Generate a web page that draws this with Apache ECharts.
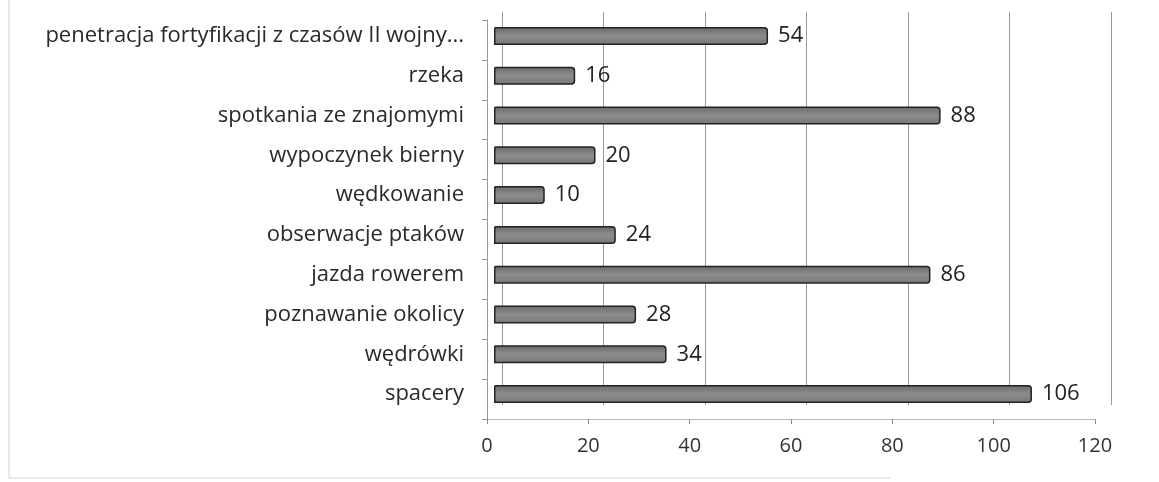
<!DOCTYPE html>
<html><head><meta charset="utf-8">
<script src="https://cdn.jsdelivr.net/npm/echarts@6/dist/echarts.min.js"></script>
<style>html,body{margin:0;padding:0;background:#fff}#c{width:1159px;height:482px}</style>
</head><body><div id="c"></div>
<script>
const categories = ["penetracja fortyfikacji z czasów II wojny...","rzeka","spotkania ze znajomymi","wypoczynek bierny","wędkowanie","obserwacje ptaków","jazda rowerem","poznawanie okolicy","wędrówki","spacery"];
const values = [54,16,88,20,10,24,86,28,34,106];
const xTicks = [0,20,40,60,80,100,120];

const FONT = '"Open Sans", "Liberation Sans", sans-serif';
const chart = echarts.init(document.getElementById('c'), null, {renderer:'canvas'});
chart.setOption({
  animation:false,
  backgroundColor:'#fff',
  grid:[
    {left:494, right:56, top:16, height:398},
    {left:487, right:64, top:20, bottom:63},
    {left:502, right:48, top:12, bottom:77}
  ],
  xAxis:[
    {gridIndex:0, type:'value', min:xTicks[0], max:xTicks[xTicks.length-1], interval:20, show:false},
    {gridIndex:1, type:'value', min:xTicks[0], max:xTicks[xTicks.length-1], interval:20,
     axisLine:{show:true, lineStyle:{color:'#aaa', type:'dotted'}},
     axisTick:{show:true, length:5, lineStyle:{color:'#888'}},
     axisLabel:{show:true, margin:17, fontFamily:FONT, fontSize:20, color:'#333'},
     splitLine:{show:false}},
    {gridIndex:2, type:'value', min:xTicks[0], max:xTicks[xTicks.length-1], interval:20,
     axisLine:{show:false}, axisTick:{show:false}, axisLabel:{show:false},
     splitLine:{show:true, lineStyle:{color:'#999', width:1}}}
  ],
  yAxis:[
    {gridIndex:0, type:'category', data:categories, inverse:true,
     axisLine:{show:false}, axisTick:{show:false},
     axisLabel:{margin:30, fontFamily:FONT, fontSize:22, color:'#2a2a2a'}},
    {gridIndex:1, type:'category', data:categories, inverse:true,
     axisLine:{show:true, lineStyle:{color:'#999'}},
     axisTick:{show:true, length:5, lineStyle:{color:'#999'}},
     axisLabel:{show:false}},
    {gridIndex:2, type:'category', data:categories, inverse:true, show:false}
  ],
  series:[{
    type:'bar', xAxisIndex:0, yAxisIndex:0, data:values, barWidth:18,
    itemStyle:{color:new echarts.graphic.LinearGradient(0,0,0,1,[{offset:0,color:'#6a6a6a'},{offset:0.5,color:'#8c8c8c'},{offset:1,color:'#767676'}]),
      borderColor:'#222', borderWidth:1.5, borderRadius:[0,3,3,0]},
    label:{show:true, position:'right', distance:10, fontFamily:FONT, fontSize:22, color:'#222'}
  }],
  graphic:[
    {type:'line', shape:{x1:9,y1:0,x2:9,y2:478}, style:{stroke:'#d4d4d4', lineWidth:1}},
    {type:'line', shape:{x1:9,y1:478,x2:890,y2:478}, style:{stroke:'#d4d4d4', lineWidth:1}}
  ]
});
</script></body></html>
